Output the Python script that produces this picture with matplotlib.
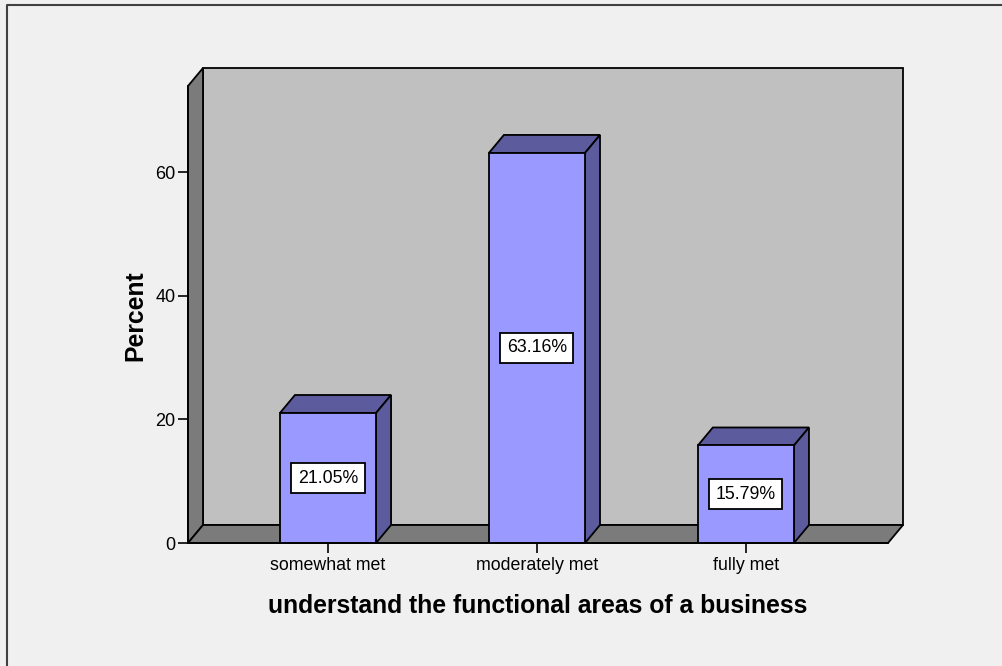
import matplotlib
matplotlib.use("Agg")
import matplotlib.pyplot as plt
from matplotlib.patches import Polygon, Rectangle
from matplotlib.lines import Line2D

categories = ["somewhat met", "moderately met", "fully met"]
percents = [21.05, 63.16, 15.79]
value_labels = ["21.05%", "63.16%", "15.79%"]
y_ticks = [0, 20, 40, 60]
x_title = "understand the functional areas of a business"
y_title = "Percent"

plt.rcParams["font.family"] = ["Liberation Sans", "DejaVu Sans"]

W, H = 1003, 666
BG = "#F0F0F0"
fig = plt.figure(figsize=(W / 100, H / 100), dpi=100, facecolor=BG)

# front plane of the 3-D box
ax = fig.add_axes([188 / W, (H - 543) / H, 700 / W, 457 / H])
ax.set_facecolor("none")
XMIN, XMAX = -0.67, 2.68
YMAX = 74
ax.set_xlim(XMIN, XMAX)
ax.set_ylim(0, YMAX)

# depth of the box, converted to data units
DX = 15 / (700 / (XMAX - XMIN))
DY = 18 / (457 / YMAX)

EDGE = dict(edgecolor="black", linewidth=1.3, clip_on=False)

# back wall, left wall, floor
ax.add_patch(Rectangle((XMIN + DX, DY), XMAX - XMIN, YMAX,
                       facecolor="#C0C0C0", zorder=0.5, **EDGE))
ax.add_patch(Polygon([(XMIN, 0), (XMIN, YMAX), (XMIN + DX, YMAX + DY), (XMIN + DX, DY)],
                     closed=True, facecolor="#7B7B7B", zorder=0.6, **EDGE))
ax.add_patch(Polygon([(XMIN, 0), (XMAX, 0), (XMAX + DX, DY), (XMIN + DX, DY)],
                     closed=True, facecolor="#7B7B7B", zorder=0.6, **EDGE))

# bars with top and side faces
BW = 0.46
xs = list(range(len(categories)))
ax.bar(xs, percents, width=BW, color="#9999FF", edgecolor="black",
       linewidth=1.3, zorder=3)
SIDE = "#5B5B9E"
for x, v in zip(xs, percents):
    l, r = x - BW / 2, x + BW / 2
    ax.add_patch(Polygon([(l, v), (r, v), (r + DX, v + DY), (l + DX, v + DY)],
                         closed=True, facecolor=SIDE, zorder=2.9, **EDGE))
    ax.add_patch(Polygon([(r, 0), (r, v), (r + DX, v + DY), (r + DX, DY)],
                         closed=True, facecolor=SIDE, zorder=2.9, **EDGE))

# value labels
for x, v, lab in zip(xs, percents, value_labels):
    ax.text(x, v / 2, lab, ha="center", va="center", fontsize=12.8, zorder=5,
            bbox=dict(boxstyle="square,pad=0.36", facecolor="white",
                      edgecolor="black", linewidth=1.3))

# axes
ax.set_xticks(xs, categories)
ax.set_yticks(y_ticks)
ax.tick_params(axis="x", length=7, width=1.2, pad=3, labelsize=12.8, colors="black")
ax.tick_params(axis="y", length=7, width=1.2, pad=2, labelsize=13, colors="black")
for s in ("top", "right"):
    ax.spines[s].set_visible(False)
for s in ("left", "bottom"):
    ax.spines[s].set_linewidth(1.3)
    ax.spines[s].set_zorder(4)

fig.text(135 / W, 1 - 316 / H, y_title, rotation=90, ha="center", va="center",
         fontsize=17.8, fontweight="bold")
fig.text(538 / W, 1 - 606 / H, x_title, ha="center", va="center",
         fontsize=17.8, fontweight="bold")

# outer frame (top and left edges)
fig.add_artist(Line2D([7 / W, 7 / W, 1], [0, 1 - 5 / H, 1 - 5 / H],
                      transform=fig.transFigure, color="#404040", linewidth=1.5))

fig.savefig("out.png", dpi=100, facecolor=BG)
